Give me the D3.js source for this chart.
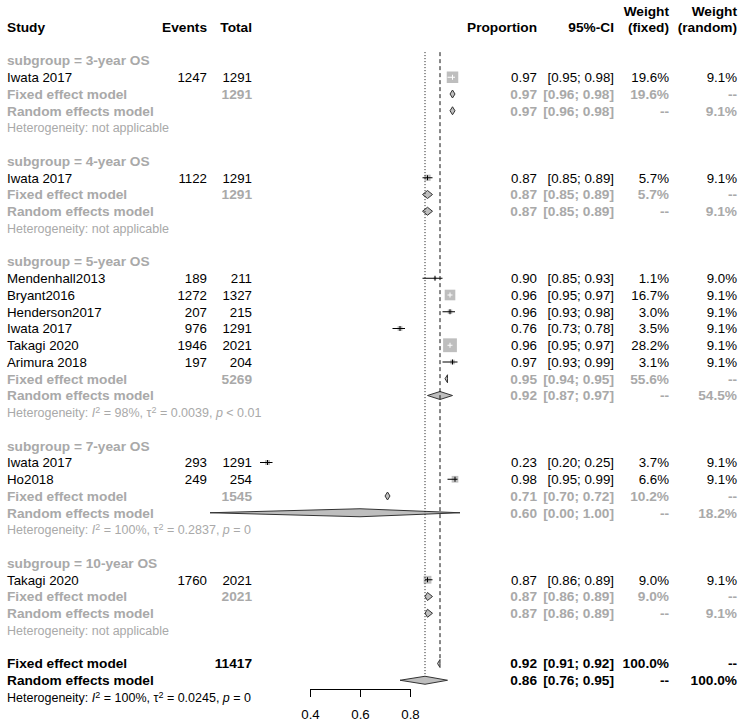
<!DOCTYPE html>
<html>
<head>
<meta charset="utf-8">
<script src="https://cdn.jsdelivr.net/npm/d3@7"></script>
<style>
  body { margin: 0; background: #fff; }
  svg text { font-family: "Liberation Sans", Arial, sans-serif; }
</style>
</head>
<body>
<svg id="chart" width="743" height="725"></svg>
<script>
// ---- data ----
const groups = ["3-year OS", "4-year OS", "5-year OS", "7-year OS", "10-year OS"];

const studyGroup = [0, 1, 2, 2, 2, 2, 2, 2, 3, 3, 4];
const studyNames = ["Iwata 2017", "Iwata 2017", "Mendenhall2013", "Bryant2016", "Henderson2017",
  "Iwata 2017", "Takagi 2020", "Arimura 2018", "Iwata 2017", "Ho2018", "Takagi 2020"];
const events = [1247, 1122, 189, 1272, 207, 976, 1946, 197, 293, 249, 1760];
const totals = [1291, 1291, 211, 1327, 215, 1291, 2021, 204, 1291, 254, 2021];
const prop  = [0.97, 0.87, 0.90, 0.96, 0.96, 0.76, 0.96, 0.97, 0.23, 0.98, 0.87];
const lower = [0.95, 0.85, 0.85, 0.95, 0.93, 0.73, 0.95, 0.93, 0.20, 0.95, 0.86];
const upper = [0.98, 0.89, 0.93, 0.97, 0.98, 0.78, 0.97, 0.99, 0.25, 0.99, 0.89];
const wFixed  = [19.6, 5.7, 1.1, 16.7, 3.0, 3.5, 28.2, 3.1, 3.7, 6.6, 9.0];
const wRandom = [9.1, 9.1, 9.0, 9.1, 9.1, 9.1, 9.1, 9.1, 9.1, 9.1, 9.1];

const grpTotal    = [1291, 1291, 5269, 1545, 2021];
const grpFixed    = [0.97, 0.87, 0.95, 0.71, 0.87];
const grpFixedLo  = [0.96, 0.85, 0.94, 0.70, 0.86];
const grpFixedHi  = [0.98, 0.89, 0.95, 0.72, 0.89];
const grpFixedW   = [19.6, 5.7, 55.6, 10.2, 9.0];
const grpRandom   = [0.97, 0.87, 0.92, 0.60, 0.87];
const grpRandomLo = [0.96, 0.85, 0.87, 0.00, 0.86];
const grpRandomHi = [0.98, 0.89, 0.97, 1.00, 0.89];
const grpRandomW  = [9.1, 9.1, 54.5, 18.2, 9.1];
const grpI2   = [null, null, "98%", "100%", null];
const grpTau2 = [null, null, "0.0039", "0.2837", null];
const grpP    = [null, null, "< 0.01", "= 0", null];

const overallTotal = 11417;
const overallFixed  = [0.92, 0.91, 0.92];
const overallRandom = [0.86, 0.76, 0.95];
const overallHet = ["100%", "0.0245", "= 0"];

const axisTicks = [0.4, 0.6, 0.8];

// ---- layout ----
const grey = "#a9a9a9";
const fs = 13.3, fsBold = 13.7, fsHet = 12.5;
const col = { study: 7, events: 207, total: 252, prop: 537, ci: 614, wf: 669, wr: 737 };

const svg = d3.select("#chart");
const x = d3.scaleLinear().domain([0.4, 0.8]).range([310, 410]);
const y = d3.scaleLinear().domain([0, 40]).range([27, 697]);

const f2 = d3.format(".2f");
const pct = v => d3.format(".1f")(v) + "%";
const ciText = (lo, hi) => "[" + f2(lo) + "; " + f2(hi) + "]";

const textLayer = svg.append("g");
const markLayer = svg.append("g");

function label(xp, row, str, opt = {}) {
  return textLayer.append("text")
    .attr("x", xp)
    .attr("y", y(row))
    .attr("dy", "0.36em")
    .attr("text-anchor", opt.anchor || "end")
    .attr("font-size", opt.bold ? fsBold : fs)
    .attr("font-weight", opt.bold ? "bold" : null)
    .attr("fill", opt.color || "#000")
    .text(str);
}

function hetLabel(row, i2, tau2, p, color) {
  const t = textLayer.append("text")
    .attr("x", col.study).attr("y", y(row) + 4.5)
    .attr("font-size", fsHet).attr("fill", color);
  t.append("tspan").text("Heterogeneity: ");
  if (i2 === null) { t.append("tspan").text("not applicable"); return; }
  t.append("tspan").attr("font-style", "italic").text("I");
  t.append("tspan").attr("font-size", 9).attr("dy", -4).text("2");
  t.append("tspan").attr("dy", 4).text(" = " + i2 + ", \u03c4");
  t.append("tspan").attr("font-size", 9).attr("dy", -4).text("2");
  t.append("tspan").attr("dy", 4).text(" = " + tau2 + ", ");
  t.append("tspan").attr("font-style", "italic").text("p");
  t.append("tspan").text(" " + p);
}

function diamond(row, est, lo, hi) {
  const yc = y(row);
  markLayer.append("path")
    .attr("d", `M${x(lo)},${yc}L${x(est)},${yc - 4}L${x(hi)},${yc}L${x(est)},${yc + 4}Z`)
    .attr("fill", "#bebebe")
    .attr("stroke", "#333")
    .attr("stroke-width", 1);
}

function summaryRow(row, name, total, est, lo, hi, wf, wr, color) {
  label(col.study, row, name, { anchor: "start", bold: true, color });
  if (total !== null) label(col.total, row, total, { bold: true, color });
  label(col.prop, row, f2(est), { bold: true, color });
  label(col.ci, row, ciText(lo, hi), { bold: true, color });
  label(col.wf, row, wf === null ? "--" : pct(wf), { bold: true, color });
  label(col.wr, row, wr === null ? "--" : pct(wr), { bold: true, color });
  diamond(row, est, lo, hi);
}

// header
label(col.study, 0, "Study", { anchor: "start", bold: true });
label(col.events, 0, "Events", { bold: true });
label(col.total, 0, "Total", { bold: true });
label(col.prop, 0, "Proportion", { bold: true });
label(col.ci, 0, "95%-CI", { bold: true });
label(col.wf, -0.96, "Weight", { bold: true });
label(col.wf, 0, "(fixed)", { bold: true });
label(col.wr, -0.96, "Weight", { bold: true });
label(col.wr, 0, "(random)", { bold: true });

// body
let row = 0;
groups.forEach((g, gi) => {
  row += 2;
  label(col.study, row, "subgroup = " + g, { anchor: "start", bold: true, color: grey });
  studyNames.forEach((name, i) => {
    if (studyGroup[i] !== gi) return;
    row++;
    label(col.study, row, name, { anchor: "start" });
    label(col.events, row, events[i]);
    label(col.total, row, totals[i]);
    label(col.prop, row, f2(prop[i]));
    label(col.ci, row, ciText(lower[i], upper[i]));
    label(col.wf, row, pct(wFixed[i]));
    label(col.wr, row, pct(wRandom[i]));

    const yc = y(row);
    const side = 2.6 * Math.sqrt(wFixed[i]);
    const xc = x(prop[i]);
    markLayer.append("rect")
      .attr("x", xc - side / 2).attr("y", yc - side / 2)
      .attr("width", side).attr("height", side)
      .attr("fill", "#bebebe");
    // CI drawn white only when it sits well inside the box
    const inside = x(upper[i]) - x(lower[i]) < side - 1;
    const lc = inside ? "#fff" : "#000";
    markLayer.append("line")
      .attr("x1", x(lower[i])).attr("x2", x(upper[i]))
      .attr("y1", yc).attr("y2", yc)
      .attr("stroke", lc).attr("stroke-width", 1);
    markLayer.append("line")
      .attr("x1", xc).attr("x2", xc)
      .attr("y1", yc - 2.5).attr("y2", yc + 2.5)
      .attr("stroke", lc).attr("stroke-width", 1);
  });
  row++;
  summaryRow(row, "Fixed effect model", grpTotal[gi], grpFixed[gi], grpFixedLo[gi], grpFixedHi[gi],
    grpFixedW[gi], null, grey);
  row++;
  summaryRow(row, "Random effects model", null, grpRandom[gi], grpRandomLo[gi], grpRandomHi[gi],
    null, grpRandomW[gi], grey);
  row++;
  hetLabel(row, grpI2[gi], grpTau2[gi], grpP[gi], grey);
});

row += 2;
const fixedRow = row;
summaryRow(row, "Fixed effect model", overallTotal, overallFixed[0], overallFixed[1], overallFixed[2],
  100, null, "#000");
row++;
const randomRow = row;
summaryRow(row, "Random effects model", null, overallRandom[0], overallRandom[1], overallRandom[2],
  null, 100, "#000");
row++;
hetLabel(row, overallHet[0], overallHet[1], overallHet[2], "#000");

// reference lines for the pooled estimates
svg.append("line")
  .attr("x1", x(overallFixed[0])).attr("x2", x(overallFixed[0]))
  .attr("y1", y(1.5)).attr("y2", y(fixedRow) - 4)
  .attr("stroke", "#111").attr("stroke-dasharray", "4,3");
svg.append("line")
  .attr("x1", x(overallRandom[0])).attr("x2", x(overallRandom[0]))
  .attr("y1", y(1.5)).attr("y2", y(randomRow) - 4)
  .attr("stroke", "#111").attr("stroke-dasharray", "1,2");

// axis
const axis = svg.append("g")
  .attr("transform", "translate(0,689)")
  .call(d3.axisBottom(x).tickValues(axisTicks).tickFormat(d3.format(".1f"))
    .tickSize(8).tickSizeOuter(0).tickPadding(13));
axis.selectAll("text").attr("font-size", fs).attr("font-family", "Liberation Sans, Arial, sans-serif");
axis.selectAll("path,line").attr("stroke", "#000");
</script>
</body>
</html>
